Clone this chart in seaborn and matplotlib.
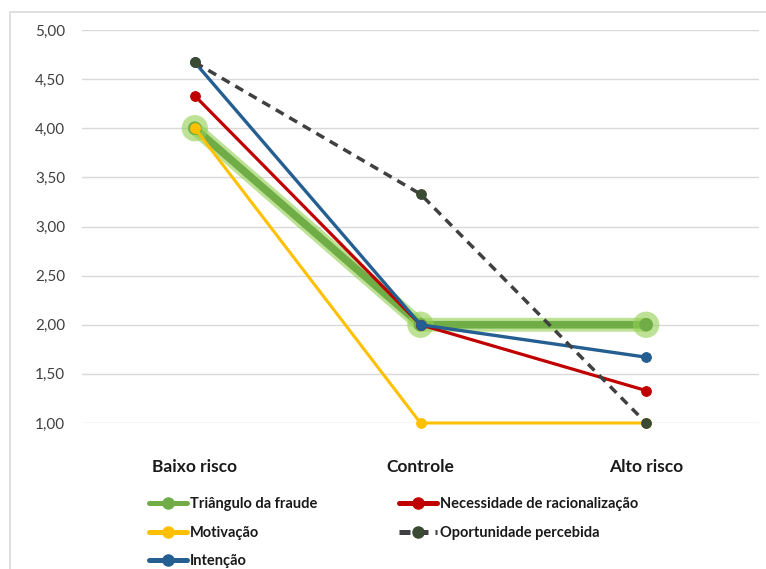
import pandas as pd
import matplotlib
matplotlib.use("Agg")
import matplotlib.pyplot as plt
import matplotlib.patheffects as pe
from matplotlib.patches import Rectangle
import seaborn as sns

# dados do grafico
grupos = ["Baixo risco", "Controle", "Alto risco"]
triangulo = [4.00, 2.00, 2.00]
motivacao = [4.00, 1.00, 1.00]
necessidade = [4.33, 2.00, 1.33]
intencao = [4.67, 2.00, 1.67]
oportunidade = [4.67, 3.33, 1.00]
y_ticks = [1.0, 1.5, 2.0, 2.5, 3.0, 3.5, 4.0, 4.5, 5.0]

sns.set_theme(style="white")
plt.rcParams["font.family"] = ["Lato", "DejaVu Sans"]

fig = plt.figure(figsize=(7.66, 5.69), dpi=100)
ax = fig.add_axes([82 / 766, 1 - 423 / 569, 677 / 766, 393 / 569])

# moldura do grafico (estilo Excel)
fig.patches.append(Rectangle((10 / 766, -0.1), 1.2, 1 - 12 / 569 + 0.1,
                             transform=fig.transFigure, fill=False,
                             edgecolor="#D9D9D9", linewidth=1.2))

series = [
    ("Triângulo da fraude", triangulo, "#70AD47", "#70AD47", 5.5, ""),
    ("Motivação", motivacao, "#FFC000", "#FFC000", 2.2, ""),
    ("Necessidade de racionalização", necessidade, "#C00000", "#C00000", 2.3, ""),
    ("Intenção", intencao, "#255E91", "#255E91", 2.4, ""),
    ("Oportunidade percebida", oportunidade, "#404040", "#3B4A32", 2.5, (2.6, 1.9)),
]

handles = {}
for nome, valores, cor, cor_marc, lw, dash in series:
    df = pd.DataFrame({"grupo": grupos, "valor": valores})
    sns.lineplot(data=df, x="grupo", y="valor", ax=ax, color=cor,
                 linewidth=lw, marker="o", markersize=7 if lw < 3 else 9,
                 markerfacecolor=cor_marc, markeredgecolor=cor_marc,
                 sort=False, label=nome, clip_on=False)
    linha = ax.lines[-1]
    if dash:
        linha.set_dashes(dash)
    if nome == "Triângulo da fraude":
        linha.set_path_effects([pe.Stroke(linewidth=10, foreground="#92D050", alpha=0.6),
                                pe.Normal()])
    handles[nome] = linha

ax.set_xlim(-0.5, 2.5)
ax.set_ylim(1, 5)
ax.set_yticks(y_ticks)
ax.set_yticklabels([f"{v:.2f}".replace(".", ",") for v in y_ticks],
                   fontsize=11, color="#404040")
ax.set_xticks(range(len(grupos)))
ax.set_xticklabels(grupos, fontsize=12.5, fontweight="bold", color="#1a1a1a")
ax.tick_params(axis="x", pad=26, length=0)
ax.tick_params(axis="y", pad=12, length=0)
ax.set_xlabel("")
ax.set_ylabel("")
ax.grid(axis="y", color="#D9D9D9", linewidth=1)
ax.grid(axis="x", visible=False)
for s in ax.spines.values():
    s.set_visible(False)

ordem = ["Triângulo da fraude", "Motivação", "Intenção",
         "Necessidade de racionalização", "Oportunidade percebida"]
ax.get_legend().remove()
leg_handles = []
for nome in ordem:
    h = handles[nome]
    tracejado = nome == "Oportunidade percebida"
    leg_handles.append(plt.Line2D([], [], color=h.get_color(),
                                  linewidth=3.6,
                                  linestyle="--" if tracejado else "-",
                                  dashes=(2.2, 1.4) if tracejado else (None, None),
                                  marker="o", markersize=8,
                                  markerfacecolor=h.get_markerfacecolor(),
                                  markeredgecolor=h.get_markeredgecolor()))
leg = fig.legend(leg_handles, ordem, ncol=2, loc="upper left",
                 bbox_to_anchor=(136 / 766, 1 - 484 / 569), frameon=False,
                 handlelength=2.6, handletextpad=0.2, columnspacing=5.6,
                 labelspacing=1.0, prop={"size": 10.5, "weight": "bold"})
for t in leg.get_texts():
    t.set_color("#1a1a1a")

fig.savefig("out.png", dpi=100)
